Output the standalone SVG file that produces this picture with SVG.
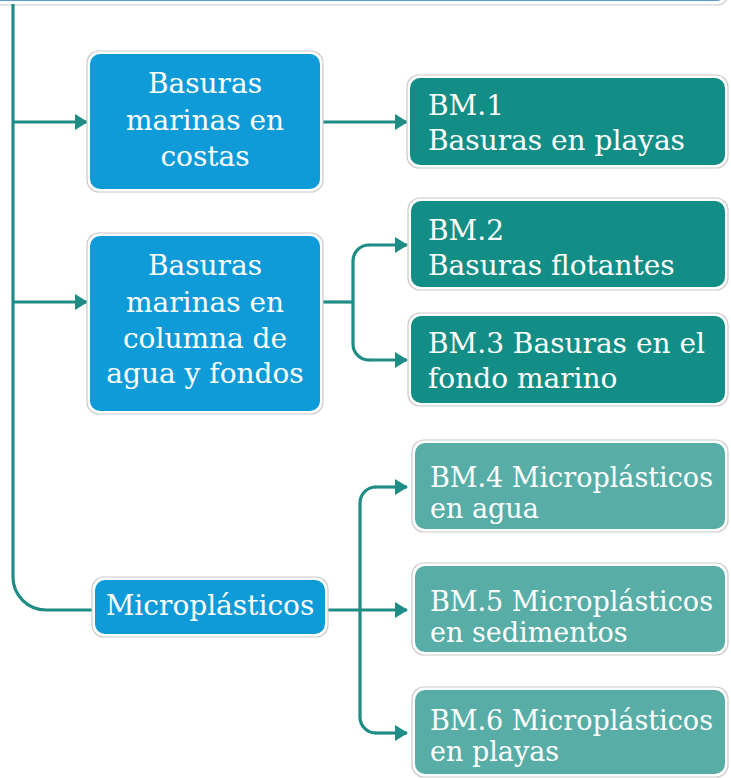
<svg xmlns="http://www.w3.org/2000/svg" width="731" height="778" viewBox="0 0 731 778">
<style>
.outer{fill:#ffffff;stroke:#c9c9c9;stroke-width:1.2}
.blue{fill:#0f9bd8}
.dark{fill:#138e86}
.light{fill:#58aea7}
.t{font-family:"DejaVu Serif",serif;font-size:28px;fill:#ffffff}
.s{font-size:27px}
.c{text-anchor:middle}
.conn{fill:none;stroke:#1f8c86;stroke-width:3.2}
</style>
<defs>
<marker id="ah" markerUnits="userSpaceOnUse" markerWidth="14" markerHeight="16" refX="12" refY="8" orient="auto">
<path d="M0,0 L13,8 L0,16 z" fill="#1f8c86"/>
</marker>
</defs>

<g id="top-node">
<rect class="outer" x="-20" y="-60" width="747" height="65" rx="9"/>
<rect x="-17" y="-57" width="741" height="58" rx="7" fill="#5b9fd0"/>
</g>

<g id="connectors">
<path class="conn" d="M13,4 V577 A33,33 0 0 0 46,610 H93"/>
<path class="conn" d="M13,122 H87" marker-end="url(#ah)"/>
<path class="conn" d="M13,302 H87" marker-end="url(#ah)"/>
<path class="conn" d="M323,122 H407" marker-end="url(#ah)"/>
<path class="conn" d="M323,302 H353"/>
<path class="conn" d="M370,245 H369 A16,16 0 0 0 353,261 V344 A16,16 0 0 0 369,360 H370"/>
<path class="conn" d="M369,245 H407" marker-end="url(#ah)"/>
<path class="conn" d="M369,360 H407" marker-end="url(#ah)"/>
<path class="conn" d="M328,610 H407" marker-end="url(#ah)"/>
<path class="conn" d="M376,487 A16,16 0 0 0 360,503 V717 A16,16 0 0 0 376,733"/>
<path class="conn" d="M375,487 H407" marker-end="url(#ah)"/>
<path class="conn" d="M375,733 H407" marker-end="url(#ah)"/>
</g>

<g id="n-costas">
<rect class="outer" x="87" y="51" width="236" height="141" rx="12"/>
<rect class="blue" x="90" y="54" width="230" height="135" rx="10"/>
<text class="t c" x="205" y="93">Basuras</text>
<text class="t c" x="205" y="130">marinas en</text>
<text class="t c" x="205" y="166">costas</text>
</g>

<g id="n-columna">
<rect class="outer" x="87" y="233" width="236" height="181" rx="12"/>
<rect class="blue" x="90" y="236" width="230" height="175" rx="10"/>
<text class="t c" x="205" y="275">Basuras</text>
<text class="t c" x="205" y="312">marinas en</text>
<text class="t c" x="205" y="348">columna de</text>
<text class="t c" x="205" y="383">agua y fondos</text>
</g>

<g id="n-micro">
<rect class="outer" x="92" y="577" width="236" height="60" rx="12"/>
<rect class="blue" x="95" y="580" width="230" height="54" rx="10"/>
<text class="t c" x="210" y="615">Microplásticos</text>
</g>

<g id="bm1">
<rect class="outer" x="407" y="75" width="321" height="93" rx="12"/>
<rect class="dark" x="410" y="78" width="315" height="87" rx="10"/>
<text class="t" x="428" y="115">BM.1</text>
<text class="t" x="428" y="150">Basuras en playas</text>
</g>

<g id="bm2">
<rect class="outer" x="408" y="198" width="320" height="92" rx="12"/>
<rect class="dark" x="411" y="201" width="314" height="86" rx="10"/>
<text class="t" x="428" y="240">BM.2</text>
<text class="t" x="428" y="275">Basuras flotantes</text>
</g>

<g id="bm3">
<rect class="outer" x="408" y="313" width="320" height="93" rx="12"/>
<rect class="dark" x="411" y="316" width="314" height="87" rx="10"/>
<text class="t" x="428" y="353">BM.3 Basuras en el</text>
<text class="t" x="428" y="388">fondo marino</text>
</g>

<g id="bm4">
<rect class="outer" x="412" y="440" width="316" height="92" rx="12"/>
<rect class="light" x="415" y="443" width="310" height="86" rx="10"/>
<text class="t s" x="430" y="487">BM.4 Microplásticos</text>
<text class="t s" x="430" y="518">en agua</text>
</g>

<g id="bm5">
<rect class="outer" x="412" y="563" width="316" height="92" rx="12"/>
<rect class="light" x="415" y="566" width="310" height="86" rx="10"/>
<text class="t s" x="430" y="611">BM.5 Microplásticos</text>
<text class="t s" x="430" y="642">en sedimentos</text>
</g>

<g id="bm6">
<rect class="outer" x="412" y="687" width="316" height="90" rx="12"/>
<rect class="light" x="415" y="690" width="310" height="84" rx="10"/>
<text class="t s" x="430" y="730">BM.6 Microplásticos</text>
<text class="t s" x="430" y="761">en playas</text>
</g>
</svg>
